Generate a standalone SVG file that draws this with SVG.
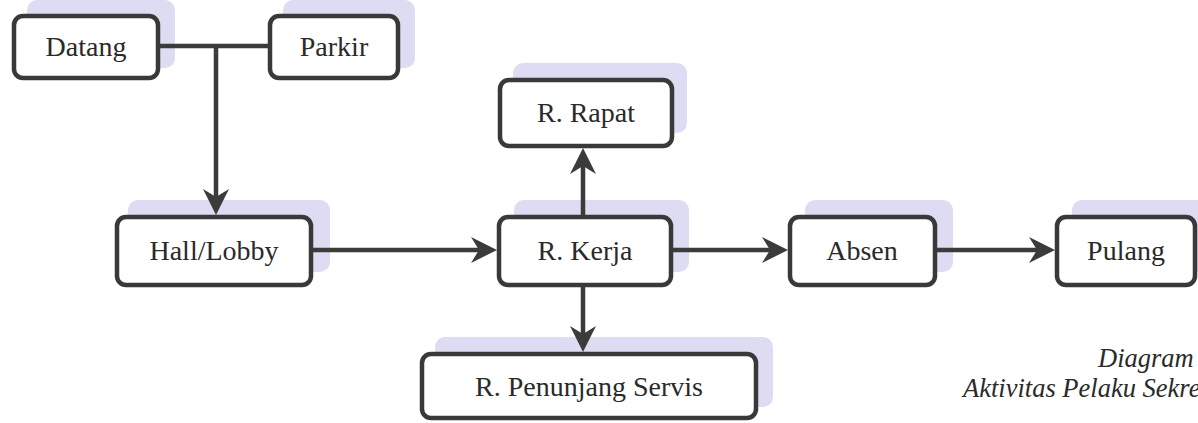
<svg xmlns="http://www.w3.org/2000/svg" width="1198" height="423" viewBox="0 0 1198 423">
  <style>
    .shadow { fill: #dddcf2; stroke: none; }
    .box { fill: #ffffff; stroke: #393939; stroke-width: 4.5; }
    .label { font-family: "Liberation Serif", "Times New Roman", serif; font-size: 28px; fill: #2a2a2a; text-anchor: middle; }
    .link { fill: none; stroke: #3b3b3b; stroke-width: 4.5; }
    .caption { font-family: "Liberation Serif", "Times New Roman", serif; font-style: italic; font-size: 26.5px; fill: #2a2a2a; }
  </style>
  <defs>
    <marker id="arrow" viewBox="0 0 26 26" refX="17" refY="13" markerWidth="26" markerHeight="26" markerUnits="userSpaceOnUse" orient="auto">
      <path d="M0,0 L26,13 L0,26 L8,13 Z" fill="#3b3b3b"/>
    </marker>
  </defs>
  <rect width="1198" height="423" fill="#ffffff"/>

  <!-- nodes -->
  <g id="datang">
    <rect class="shadow" x="27" y="0" width="148" height="68" rx="10"/>
    <rect class="box" x="14" y="16" width="144" height="62" rx="9"/>
    <text class="label" x="86" y="56">Datang</text>
  </g>
  <g id="parkir">
    <rect class="shadow" x="283" y="0" width="132" height="68" rx="10"/>
    <rect class="box" x="270" y="16" width="128" height="62" rx="9"/>
    <text class="label" x="334" y="56">Parkir</text>
  </g>
  <g id="r-rapat">
    <rect class="shadow" x="513" y="63" width="174" height="70" rx="10"/>
    <rect class="box" x="500" y="80" width="172" height="66" rx="9"/>
    <text class="label" x="586" y="122">R. Rapat</text>
  </g>
  <g id="hall-lobby">
    <rect class="shadow" x="128" y="200" width="202" height="72" rx="10"/>
    <rect class="box" x="117" y="217" width="194" height="68" rx="9"/>
    <text class="label" x="214" y="260">Hall/Lobby</text>
  </g>
  <g id="r-kerja">
    <rect class="shadow" x="514" y="200" width="175" height="72" rx="10"/>
    <rect class="box" x="499" y="217" width="172" height="68" rx="9"/>
    <text class="label" x="585" y="260">R. Kerja</text>
  </g>
  <g id="absen">
    <rect class="shadow" x="805" y="200" width="148" height="72" rx="10"/>
    <rect class="box" x="790" y="217" width="145" height="68" rx="9"/>
    <text class="label" x="862" y="260">Absen</text>
  </g>
  <g id="pulang">
    <rect class="shadow" x="1072" y="200" width="150" height="72" rx="10"/>
    <rect class="box" x="1057" y="217" width="138" height="68" rx="9"/>
    <text class="label" x="1126" y="260">Pulang</text>
  </g>
  <g id="r-penunjang-servis">
    <rect class="shadow" x="435" y="337" width="338" height="70" rx="10"/>
    <rect class="box" x="422" y="354" width="334" height="64" rx="9"/>
    <text class="label" x="589" y="396">R. Penunjang Servis</text>
  </g>

  <!-- connectors -->
  <g id="connectors">
    <path class="link" d="M160,46 H268"/>
    <path class="link" d="M216,46 V206" marker-end="url(#arrow)"/>
    <path class="link" d="M313,250 H488" marker-end="url(#arrow)"/>
    <path class="link" d="M583,215 V157" marker-end="url(#arrow)"/>
    <path class="link" d="M583,287 V343" marker-end="url(#arrow)"/>
    <path class="link" d="M673,250 H779" marker-end="url(#arrow)"/>
    <path class="link" d="M937,250 H1046" marker-end="url(#arrow)"/>
  </g>

  <!-- caption -->
  <g id="caption">
    <text class="caption" x="1098" y="367">Diagram</text>
    <text class="caption" x="963" y="397">Aktivitas Pelaku Sekre</text>
  </g>
</svg>
